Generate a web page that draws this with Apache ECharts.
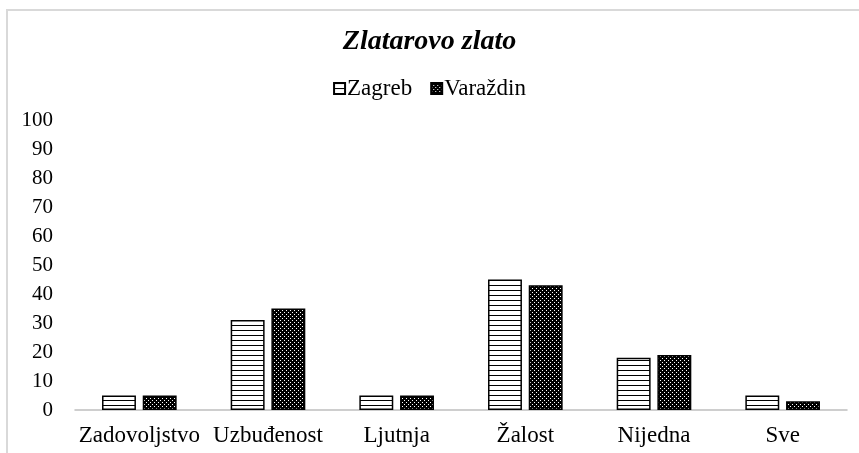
<!DOCTYPE html>
<html>
<head>
<meta charset="utf-8">
<script src="https://cdn.jsdelivr.net/npm/echarts@6/dist/echarts.min.js"></script>
<style>
  html, body { margin: 0; padding: 0; background: #fff; }
  #chart { width: 859px; height: 453px; }
</style>
</head>
<body>
<div id="chart"></div>
<script>
// podaci sa slike
var categories = ['Zadovoljstvo', 'Uzbuđenost', 'Ljutnja', 'Žalost', 'Nijedna', 'Sve']
var zagreb = [5, 31, 5, 45, 18, 5]
var varazdin = [5, 35, 5, 43, 19, 3]
var yTicks = [0, 10, 20, 30, 40, 50, 60, 70, 80, 90, 100]

// uzorci za stupce
function stripes () {
  var c = document.createElement('canvas')
  c.width = 4
  c.height = 5
  var ctx = c.getContext('2d')
  ctx.fillStyle = '#fff'
  ctx.fillRect(0, 0, 4, 5)
  ctx.fillStyle = '#000'
  ctx.fillRect(0, 0, 4, 1)
  return c
}
function dots () {
  var c = document.createElement('canvas')
  c.width = 4
  c.height = 4
  var ctx = c.getContext('2d')
  ctx.fillStyle = '#000'
  ctx.fillRect(0, 0, 4, 4)
  ctx.fillStyle = '#fff'
  ctx.fillRect(0, 0, 1, 1)
  ctx.fillRect(2, 2, 1, 1)
  return c
}

var font = '"Liberation Serif", "Times New Roman", serif'
var chart = echarts.init(document.getElementById('chart'))
chart.setOption({
  animation: false,
  textStyle: { fontFamily: font, color: '#000' },
  title: {
    text: 'Zlatarovo zlato',
    left: 'center',
    top: 23,
    textStyle: { fontFamily: font, fontSize: 28, fontWeight: 'bold', fontStyle: 'italic', color: '#000' }
  },
  legend: {
    top: 72,
    left: 'center',
    icon: 'rect',
    itemWidth: 11,
    itemHeight: 11,
    itemGap: 18,
    textStyle: { fontFamily: font, fontSize: 23, color: '#000', padding: [0, 0, 0, -3] },
    data: ['Zagreb', 'Varaždin']
  },
  graphic: [{
    type: 'rect',
    shape: { x: 7, y: 10, width: 900, height: 500 },
    style: { fill: 'none', stroke: '#d9d9d9', lineWidth: 2 },
    silent: true
  }],
  grid: { left: 75, right: 12, top: 120, bottom: 43 },
  xAxis: {
    type: 'category',
    data: categories,
    axisTick: { show: false },
    axisLine: { lineStyle: { color: '#bfbfbf', width: 1.5 } },
    axisLabel: { interval: 0, fontFamily: font, fontSize: 23, color: '#000', margin: 14 }
  },
  yAxis: {
    type: 'value',
    min: yTicks[0],
    max: yTicks[yTicks.length - 1],
    interval: 10,
    splitLine: { show: false },
    axisLine: { show: false },
    axisLabel: { fontFamily: font, fontSize: 21, color: '#000', margin: 22 }
  },
  series: [{
    name: 'Zagreb',
    type: 'bar',
    data: zagreb,
    barGap: '20%',
    barCategoryGap: '42%',
    itemStyle: { color: { image: stripes(), repeat: 'repeat' }, borderColor: '#000', borderWidth: 1.5 }
  }, {
    name: 'Varaždin',
    type: 'bar',
    data: varazdin,
    itemStyle: { color: { image: dots(), repeat: 'repeat' }, borderColor: '#000', borderWidth: 1.5 }
  }]
})
</script>
</body>
</html>
